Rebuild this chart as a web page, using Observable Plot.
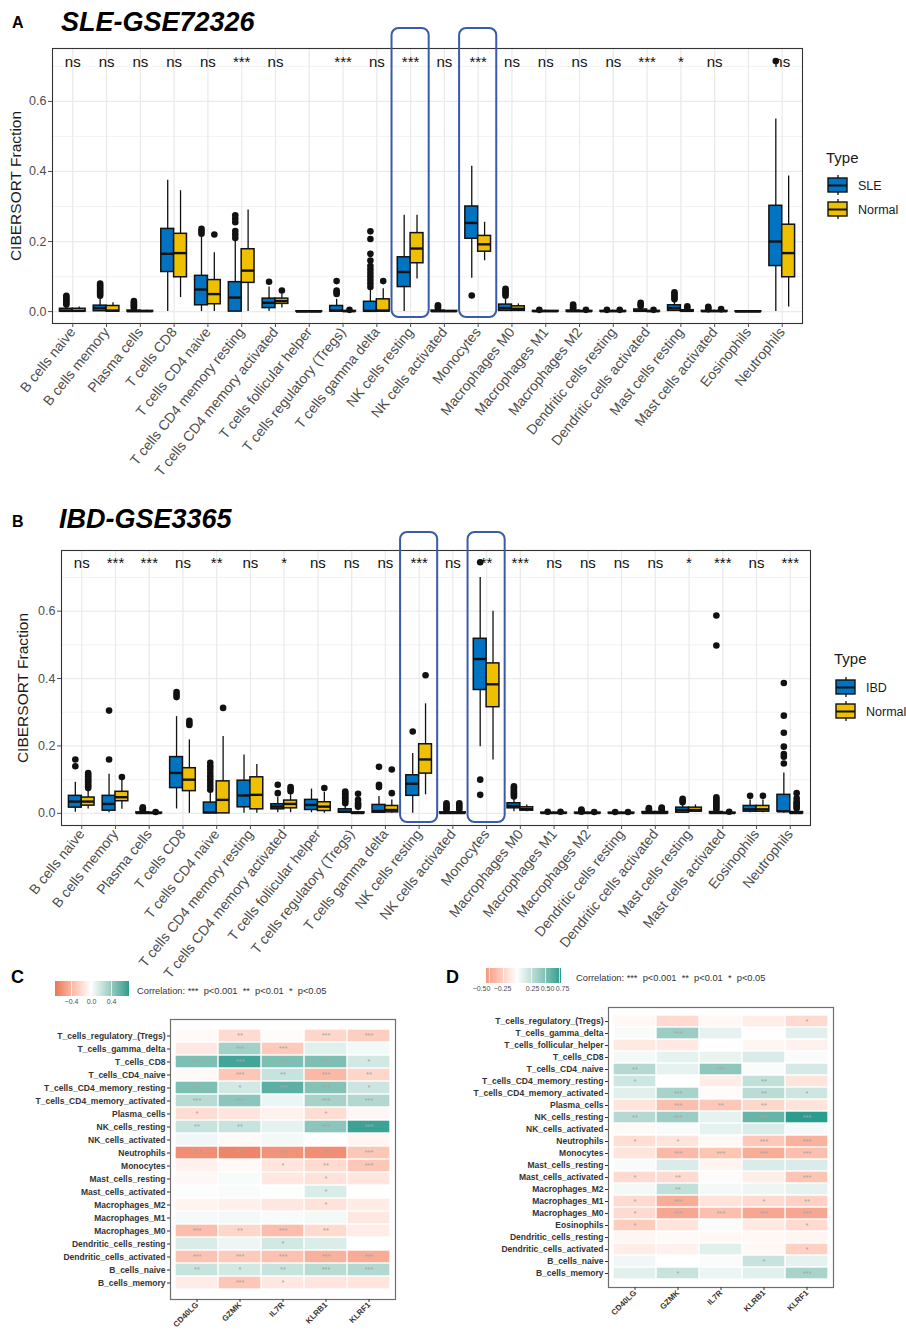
<!DOCTYPE html>
<html><head><meta charset="utf-8">
<script src="https://cdn.jsdelivr.net/npm/d3@7"></script>
<script src="https://cdn.jsdelivr.net/npm/@observablehq/plot@0.6"></script>
<style>
body{margin:0;background:#fff;}
#page{position:relative;width:906px;height:1330px;overflow:hidden;background:#fff;font-family:"Liberation Sans",Arial,Helvetica,sans-serif;}
.abs{position:absolute;line-height:1;white-space:nowrap;}
.abs svg{max-width:none;}
</style></head><body><div id="page"></div>
<script>
// ---------------- data ----------------
const cellTypes = ["B cells naive","B cells memory","Plasma cells","T cells CD8","T cells CD4 naive","T cells CD4 memory resting","T cells CD4 memory activated","T cells follicular helper","T cells regulatory (Tregs)","T cells gamma delta","NK cells resting","NK cells activated","Monocytes","Macrophages M0","Macrophages M1","Macrophages M2","Dendritic cells resting","Dendritic cells activated","Mast cells resting","Mast cells activated","Eosinophils","Neutrophils"];
const highlightCells = ["NK cells resting", "Monocytes"];
const sigSLE = ["ns","ns","ns","ns","ns","***","ns","","***","ns","***","ns","***","ns","ns","ns","ns","***","*","ns","","ns"];
const sigIBD = ["ns","***","***","ns","**","ns","*","ns","ns","ns","***","ns","**","***","ns","ns","ns","ns","*","***","ns","***"];
const groupsSLE = ["SLE", "Normal"];
const groupsIBD = ["IBD", "Normal"];

// [lower whisker, Q1, median, Q3, upper whisker]
const sleStats = [[0,0,0.002,0.008,0.018],[0,0.001,0.01,0.017,0.038],[0,0,0.001,0.003,0.006],[0,0.113,0.165,0.236,0.375],[0,0.018,0.063,0.102,0.215],[0,0,0.04,0.084,0.2],[0,0.01,0.025,0.037,0.07],[0,0,0,0.001,0.001],[0,0,0.003,0.016,0.035],[0,0,0.002,0.028,0.065],[0,0.07,0.113,0.155,0.275],[0,0,0.001,0.003,0.006],[0.095,0.208,0.253,0.3,0.415],[0,0.002,0.01,0.02,0.035],[0,0,0.001,0.002,0.003],[0,0,0.001,0.003,0.005],[0,0,0.001,0.002,0.003],[0,0,0.002,0.006,0.012],[0,0.002,0.01,0.018,0.03],[0,0,0.001,0.002,0.004],[0,0,0,0.001,0.001],[0,0.13,0.2,0.302,0.55]];
const sleOutliers = [[0.02,0.025,0.03,0.035,0.04,0.045],[0.045,0.05,0.055,0.06,0.065,0.07,0.075,0.08],[0.01,0.014,0.018,0.022,0.026,0.03],[],[0.222,0.229,0.236],[0.21,0.22,0.23,0.255,0.265,0.275],[0.085],[],[0.05,0.055,0.06,0.087],[0.07,0.08,0.09,0.1,0.11,0.12,0.13,0.146,0.165,0.207,0.229],[],[0.01,0.014,0.018],[0.046],[0.045,0.05,0.055,0.06,0.065],[0.005],[0.008,0.012,0.016,0.02],[0.005],[0.016,0.02,0.025],[0.035,0.04,0.045,0.05,0.055],[0.007,0.01,0.014],[],[0.715]];
const sleNormalStats = [[0,0,0.002,0.008,0.013],[0,0,0.003,0.016,0.025],[0,0,0.001,0.002,0.004],[0.04,0.098,0.167,0.222,0.345],[0,0.021,0.05,0.09,0.168],[0,0.082,0.117,0.178,0.29],[0.01,0.022,0.03,0.037,0.05],[0,0,0,0.001,0.001],[0,0,0.001,0.002,0.003],[0,0,0.003,0.035,0.065],[0.093,0.138,0.18,0.224,0.275],[0,0,0.001,0.002,0.003],[0.145,0.171,0.192,0.216,0.255],[0,0.002,0.008,0.015,0.022],[0,0,0.001,0.002,0.003],[0,0,0.001,0.002,0.003],[0,0,0.001,0.002,0.003],[0,0,0.001,0.002,0.003],[0,0,0.002,0.004,0.008],[0,0,0.001,0.002,0.003],[0,0,0,0.001,0.001],[0.013,0.098,0.167,0.248,0.387]];
const sleNormalOutliers = [[],[],[],[],[0.22],[],[0.06],[],[0.005],[0.087],[],[],[],[],[],[0.005],[0.005],[0.005],[0.01,0.015],[0.007],[],[]];

const ibdStats = [[0.003,0.017,0.035,0.052,0.092],[0.002,0.008,0.028,0.052,0.116],[0,0,0.001,0.003,0.006],[0.013,0.075,0.12,0.167,0.287],[0,0,0.003,0.032,0.06],[0,0.018,0.053,0.097,0.173],[0.002,0.012,0.02,0.027,0.048],[0.002,0.01,0.025,0.04,0.072],[0,0.002,0.005,0.012,0.025],[0,0.002,0.007,0.025,0.05],[0,0.052,0.088,0.113,0.178],[0,0,0.001,0.003,0.006],[0.198,0.366,0.458,0.518,0.7],[0.005,0.015,0.022,0.03,0.045],[0,0,0.001,0.002,0.003],[0,0,0.001,0.002,0.003],[0,0,0.001,0.002,0.003],[0,0,0.001,0.004,0.007],[0,0.002,0.01,0.017,0.028],[0,0,0.001,0.004,0.008],[0.002,0.005,0.012,0.022,0.04],[0,0.005,0.006,0.055,0.12]];
const ibdOutliers = [[0.14,0.16],[0.16,0.305],[0.009,0.012,0.015,0.018],[0.345,0.352,0.36],[0.07,0.08,0.09,0.1,0.11,0.12,0.13,0.14,0.15],[],[0.06,0.085],[],[0.03,0.035,0.04,0.045,0.05,0.055,0.06,0.065],[0.078,0.085,0.138],[0.243],[0.01,0.015,0.02,0.025,0.03],[0.745,0.1,0.055],[0.05,0.055,0.06,0.065,0.07,0.075,0.08],[0.005],[0.005,0.008,0.011],[0.004],[0.01,0.013,0.016],[0.033,0.038,0.043],[0.012,0.018,0.024,0.03,0.036,0.042,0.048,0.498,0.587],[0.052],[0.148,0.168,0.176,0.198,0.239,0.29,0.387]];
const ibdNormalStats = [[0.013,0.023,0.035,0.047,0.068],[0.012,0.036,0.048,0.064,0.098],[0,0,0.001,0.002,0.003],[0,0.066,0.1,0.134,0.218],[0,0,0.04,0.095,0.228],[0,0.012,0.055,0.107,0.145],[0.002,0.015,0.028,0.038,0.06],[0,0.007,0.02,0.033,0.062],[0,0,0.001,0.003,0.006],[0,0.003,0.01,0.022,0.04],[0.055,0.118,0.16,0.205,0.325],[0,0,0.001,0.003,0.006],[0.158,0.315,0.383,0.445,0.6],[0.005,0.008,0.013,0.018,0.025],[0,0,0.001,0.002,0.003],[0,0,0.001,0.002,0.003],[0,0,0.001,0.002,0.003],[0,0,0.001,0.004,0.007],[0.003,0.005,0.01,0.017,0.025],[0,0,0.001,0.002,0.003],[0.002,0.005,0.012,0.022,0.04],[0,0,0.001,0.004,0.008]];
const ibdNormalOutliers = [[0.075,0.08,0.085,0.09,0.095,0.1,0.105,0.11,0.115,0.12],[0.108],[0.004],[0.262,0.268,0.275],[0.313],[],[0.066,0.072,0.078],[0.075],[0.02,0.025,0.03,0.04,0.058],[0.06,0.13],[0.41],[0.012,0.018,0.024,0.03],[],[],[0.005],[0.004],[0.004],[0.01,0.014,0.017],[],[0.005],[0.052],[0.015,0.02,0.025,0.03,0.035,0.045,0.06]];

const yTicksMajor = [0, 0.2, 0.4, 0.6];
const yTicksMinor = [0.1, 0.3, 0.5, 0.7];

const genes = ["CD40LG", "GZMK", "IL7R", "KLRB1", "KLRF1"];
const rowsC = ["T_cells_regulatory_(Tregs)","T_cells_gamma_delta","T_cells_CD8","T_cells_CD4_naive","T_cells_CD4_memory_resting","T_cells_CD4_memory_activated","Plasma_cells","NK_cells_resting","NK_cells_activated","Neutrophils","Monocytes","Mast_cells_resting","Mast_cells_activated","Macrophages_M2","Macrophages_M1","Macrophages_M0","Dendritic_cells_resting","Dendritic_cells_activated","B_cells_naive","B_cells_memory"];
const corrC = [[-0.03,-0.2,-0.02,-0.22,-0.26],[-0.12,0.36,-0.28,0.12,0.05],[0.5,0.7,0.5,0.5,0.18],[-0.03,-0.3,0.22,-0.38,-0.22],[0.5,0.18,0.62,0.48,0.2],[0.28,0.45,0.08,0.35,0.3],[-0.18,-0.14,-0.07,-0.18,-0.04],[0.22,0.22,0.1,0.45,0.72],[0.06,-0.03,0.05,0,-0.05],[-0.6,-0.65,-0.58,-0.6,-0.3],[-0.07,-0.03,-0.14,-0.2,-0.3],[-0.04,0.03,-0.12,-0.15,-0.14],[0.01,0.02,0.01,0.15,0],[-0.06,-0.08,-0.12,-0.15,-0.1],[0.04,0.05,0.03,0.05,-0.12],[-0.35,-0.22,-0.35,-0.2,-0.1],[0.15,0.07,0.18,0.14,0],[-0.32,-0.28,-0.33,-0.42,-0.45],[0.22,0.18,0.22,0.28,0.3],[-0.1,-0.3,-0.12,-0.14,-0.14]];
const starsC = [["","**","","***","***"],["","***","***","",""],["***","***","***","***","*"],["","***","**","***","**"],["***","*","***","***","*"],["***","***","","***","***"],["*","","","*",""],["**","**","","***","***"],["","","","",""],["***","***","***","***","***"],["","","*","**","***"],["","","","*",""],["","","","*",""],["","","","*",""],["","","","",""],["***","**","***","**",""],["","","*","",""],["***","***","***","***","***"],["**","*","**","***","***"],["","***","*","",""]];
const rowsD = ["T_cells_regulatory_(Tregs)","T_cells_gamma_delta","T_cells_follicular_helper","T_cells_CD8","T_cells_CD4_naive","T_cells_CD4_memory_resting","T_cells_CD4_memory_activated","Plasma_cells","NK_cells_resting","NK_cells_activated","Neutrophils","Monocytes","Mast_cells_resting","Mast_cells_activated","Macrophages_M2","Macrophages_M1","Macrophages_M0","Eosinophils","Dendritic_cells_resting","Dendritic_cells_activated","B_cells_naive","B_cells_memory"];
const corrD = [[-0.04,-0.2,-0.04,-0.1,-0.2],[0.03,0.4,0.1,-0.01,0.12],[-0.12,-0.12,0,-0.05,-0.07],[0.05,0.1,0.09,0.15,0.02],[0.3,0.1,0.45,0.02,0.17],[0.2,0.01,-0.1,0.25,-0.15],[0.12,0.35,-0.02,0.28,0.2],[-0.15,-0.35,-0.3,-0.22,-0.15],[0.3,0.4,0.1,0.6,0.78],[-0.03,0.03,0.1,0.15,0.04],[-0.18,-0.15,-0.04,-0.3,-0.42],[-0.15,-0.38,-0.32,-0.45,-0.35],[0.03,0.15,-0.06,0.15,0.15],[-0.2,-0.2,-0.02,-0.1,-0.32],[0.05,0.25,0.05,0.07,0.1],[-0.2,-0.45,-0.15,-0.2,-0.25],[-0.2,-0.48,-0.35,-0.48,-0.48],[-0.28,-0.15,0.02,-0.12,-0.2],[-0.05,-0.03,-0.04,-0.04,-0.05],[-0.1,-0.07,0.12,-0.04,-0.25],[0.06,0,0.02,0.22,0.1],[0.12,0.22,0.08,0.12,0.35]];
const starsD = [["","","","","*"],["","***","","",""],["","","","",""],["","","","",""],["**","","***","",""],["*","","","**",""],["","***","","**","*"],["","***","**","**",""],["**","***","","***","***"],["","","","",""],["*","*","","***","***"],["","***","***","***","***"],["","","","",""],["*","**","","","***"],["","**","","",""],["*","***","","*","**"],["*","***","***","***","***"],["*","","","","*"],["","","","",""],["","","","","*"],["","","","*",""],["","*","","","***"]];
const corrRangeC = [-0.72, 0.76];
const corrRangeD = [-0.55, 0.78];
const corrTicksC = [-0.4, 0, 0.4];
const corrTicksD = [-0.5, -0.25, 0.25, 0.5, 0.75];

// ---------------- style ----------------
const FONT = '"Liberation Sans", Arial, Helvetica, sans-serif';
const boxColors = ["#0073C2", "#EFC000"];
const lowColor = "#E76F51", highColor = "#2A9D8F";
const page = document.getElementById("page");
function place(el, left, top) {
  const d = document.createElement("div");
  d.className = "abs"; d.style.left = left + "px"; d.style.top = top + "px";
  d.appendChild(el); page.appendChild(d); return d;
}
function label(text, left, top, css) {
  const d = document.createElement("div");
  d.className = "abs"; d.textContent = text;
  d.style.left = left + "px"; d.style.top = top + "px";
  Object.assign(d.style, css); page.appendChild(d); return d;
}

function boxPanel(o) {
  const w = 0.38;
  const rows = [], outs = [];
  [[o.statsD, o.outD, -1], [o.statsN, o.outN, 1]].forEach(([stats, outl, side], g) => {
    stats.forEach(([lo, q1, med, q3, hi], i) => {
      const x1 = side < 0 ? i - w : i, x2 = side < 0 ? i : i + w, xc = (x1 + x2) / 2;
      rows.push({group: o.groups[g], lo, q1, med, q3, hi, x1, x2, xc});
      outl[i].forEach(v => outs.push({xc, v}));
    });
  });
  const idx = cellTypes.map((_, i) => i);
  return Plot.plot({
    width: o.width, height: o.height,
    marginLeft: o.marginLeft, marginTop: o.marginTop, marginRight: o.marginRight, marginBottom: o.marginBottom,
    style: {fontFamily: FONT, background: "transparent", overflow: "visible"},
    x: {type: "linear", domain: [-0.6, cellTypes.length - 0.4]},
    y: {domain: o.yDomain},
    color: {domain: o.groups, range: boxColors},
    marks: [
      Plot.gridY({ticks: yTicksMinor, stroke: "#ececec", strokeOpacity: 1, strokeWidth: 0.7}),
      Plot.gridY({ticks: yTicksMajor, stroke: "#ebebeb", strokeOpacity: 1, strokeWidth: 1.3}),
      Plot.gridX({ticks: idx, stroke: "#ebebeb", strokeOpacity: 1, strokeWidth: 1.3}),
      Plot.ruleX(rows, {x: "xc", y1: "lo", y2: "hi", stroke: "#111", strokeWidth: 1.3}),
      Plot.rect(rows, {x1: "x1", x2: "x2", y1: "q1", y2: "q3", fill: "group", stroke: "#111", strokeWidth: 1.5}),
      Plot.ruleY(rows, {y: "med", x1: "x1", x2: "x2", stroke: "#111", strokeWidth: 2.4}),
      Plot.dot(outs, {x: "xc", y: "v", r: 3.3, fill: "#111", stroke: null}),
      Plot.frame({stroke: "#333", strokeWidth: 1.1}),
      Plot.text(o.sig, {x: (d, i) => i, text: d => d, frameAnchor: "top", dy: o.sigDy, fontSize: 15, fill: "#111"}),
      Plot.rect(highlightCells, {x1: d => cellTypes.indexOf(d) - 0.55, x2: d => cellTypes.indexOf(d) + 0.55,
        insetTop: o.hlTop, insetBottom: o.hlBottom, rx: 7, fill: "none", stroke: "#3A5BA9", strokeWidth: 2}),
      Plot.axisY({ticks: yTicksMajor, tickFormat: d3.format(".1f"), tickSize: 4, tickPadding: 2, fontSize: 12.5, color: "#4d4d4d", label: null}),
      Plot.axisX({ticks: idx, tickFormat: i => cellTypes[i], tickRotate: -51, tickSize: 4, tickPadding: 2, fontSize: 14, color: "#4d4d4d", label: null}),
      Plot.text(["CIBERSORT Fraction"], {frameAnchor: "left", textAnchor: "middle", rotate: -90, dx: o.titleDx, fontSize: 15.5, fill: "#1a1a1a"})
    ]
  });
}

function boxLegend(groups) {
  return Plot.plot({
    width: 90, height: 48, marginTop: 0, marginBottom: 0, marginLeft: 0, marginRight: 0,
    style: {fontFamily: FONT, overflow: "visible", background: "transparent"},
    x: {type: "band", domain: ["key"], range: [1, 20], padding: 0, axis: null},
    y: {type: "band", domain: groups, range: [0, 48], padding: 0, axis: null},
    color: {domain: groups, range: boxColors},
    marks: [
      Plot.tickX(groups, {x: () => "key", y: d => d, stroke: "#111", strokeWidth: 1.3, insetTop: 2, insetBottom: 2}),
      Plot.cell(groups, {x: () => "key", y: d => d, fill: d => d, stroke: "#111", strokeWidth: 1.4, insetTop: 5, insetBottom: 5}),
      Plot.tickY(groups, {x: () => "key", y: d => d, stroke: "#111", strokeWidth: 2}),
      Plot.text(groups, {x: () => "key", y: d => d, text: d => d, textAnchor: "start", dx: 20, fontSize: 12.5, fill: "#1a1a1a"})
    ]
  });
}

function corrScale([min, max], ticks) {
  const m = Math.max(-min, max);
  const neg = d3.interpolateLab("#ffffff", lowColor), pos = d3.interpolateLab("#ffffff", highColor);
  return {type: "linear", domain: [min, max], ticks,
    interpolate: t => { const v = min + t * (max - min); return v < 0 ? neg(-v / m) : pos(v / m); }};
}

function colorbar(scale, width, fmt, shifts) {
  const el = Plot.legend({color: {...scale, tickFormat: fmt}, label: null, width, height: 31, marginTop: 0, marginBottom: 16,
    marginLeft: 0, marginRight: 0, tickSize: 0, ticks: scale.ticks, tickFormat: fmt,
    style: {fontSize: "7px", color: "#4d4d4d", fontFamily: FONT, background: "transparent", overflow: "visible"}});
  el.querySelectorAll(".tick line").forEach(l => { l.setAttribute("stroke", "#ffffff"); l.setAttribute("stroke-opacity", "0.7"); });
  if (shifts) el.querySelectorAll(".tick text").forEach((t, i) => { t.setAttribute("dx", shifts[i] || 0); });
  return el;
}

function heatPanel(o) {
  const cells = o.rows.flatMap((r, i) => genes.map((g, j) => ({row: r, gene: g, v: o.vals[i][j], s: o.stars[i][j]})));
  return Plot.plot({
    width: o.width, height: o.height,
    marginLeft: o.marginLeft, marginRight: o.marginRight, marginTop: o.marginTop, marginBottom: o.marginBottom,
    style: {fontFamily: FONT, background: "transparent", overflow: "visible"},
    x: {domain: genes, paddingInner: 0, paddingOuter: 0.1},
    y: {domain: o.rows, paddingInner: 0, paddingOuter: 0.05},
    color: o.scale,
    marks: [
      Plot.cell(cells, {x: "gene", y: "row", fill: "v", inset: 0.7}),
      Plot.text(cells, {x: "gene", y: "row", text: "s", fill: "#a6a6a6", fontSize: 7.5}),
      Plot.frame({stroke: "#6e6e6e", strokeWidth: 1.2}),
      Plot.axisY({tickSize: 3, tickPadding: 2, fontSize: 8.5, fontWeight: "bold", color: "#333", label: null}),
      Plot.axisX({tickRotate: -45, tickSize: 3, tickPadding: 1, fontSize: 8, fontWeight: "bold", color: "#333", label: null})
    ]
  });
}

// ---------------- panels ----------------
place(boxPanel({groups: groupsSLE, statsD: sleStats, outD: sleOutliers, statsN: sleNormalStats, outN: sleNormalOutliers,
  sig: sigSLE, yDomain: [-0.034, 0.751], width: 810, height: 485, marginLeft: 52, marginTop: 48, marginRight: 8, marginBottom: 162,
  hlTop: -20, hlBottom: 6, sigDy: 8, titleDx: -36}), 0, 0);
place(boxPanel({groups: groupsIBD, statsD: ibdStats, outD: ibdOutliers, statsN: ibdNormalStats, outN: ibdNormalOutliers,
  sig: sigIBD, yDomain: [-0.036, 0.78], width: 818, height: 490, marginLeft: 61, marginTop: 50, marginRight: 8, marginBottom: 165,
  hlTop: -18, hlBottom: 3, sigDy: 7, titleDx: -38}), 0, 500);

place(boxLegend(groupsSLE), 827, 173);
place(boxLegend(groupsIBD), 835, 675);

const scaleC = corrScale(corrRangeC, corrTicksC);
const scaleD = corrScale(corrRangeD, corrTicksD);
place(heatPanel({rows: rowsC, vals: corrC, stars: starsC, scale: scaleC, width: 400, height: 320,
  marginLeft: 170, marginRight: 5, marginTop: 9, marginBottom: 31}), 0, 1010);
place(heatPanel({rows: rowsD, vals: corrD, stars: starsD, scale: scaleD, width: 400, height: 332,
  marginLeft: 168, marginRight: 7, marginTop: 9, marginBottom: 43}), 440, 998);
place(colorbar(scaleC, 74, d3.format(".1f")), 55, 981);
place(colorbar(scaleD, 75, d3.format(".2f"), [-8, -1, 1, 2, 3]), 486, 968);

// ---------------- titles ----------------
const bold = {fontWeight: "bold", color: "#000"};
label("A", 12, 14.5, {...bold, fontSize: "16px"});
label("SLE-GSE72326", 61, 9, {...bold, fontStyle: "italic", fontSize: "27px"});
label("B", 12, 513.5, {...bold, fontSize: "16px"});
label("IBD-GSE3365", 59, 506, {...bold, fontStyle: "italic", fontSize: "27px"});
label("Type", 826, 150, {fontSize: "15px", color: "#1a1a1a"});
label("Type", 834, 651, {fontSize: "15px", color: "#1a1a1a"});
label("C", 11, 968, {...bold, fontSize: "18px"});
label("D", 446, 968, {...bold, fontSize: "18px"});
label("Correlation: ***  p<0.001  **  p<0.01  *  p<0.05", 137, 987, {fontSize: "9.3px", color: "#333", whiteSpace: "pre"});
label("Correlation: ***  p<0.001  **  p<0.01  *  p<0.05", 576, 974, {fontSize: "9.3px", color: "#333", whiteSpace: "pre"});
</script></body></html>
